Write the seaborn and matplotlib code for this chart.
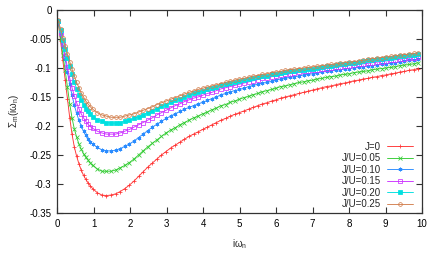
import matplotlib
matplotlib.use("Agg")
import matplotlib.pyplot as plt
import seaborn as sns

sns.set_theme(style="ticks")
plt.rcParams['font.family'] = ['Liberation Sans', 'DejaVu Sans']
plt.rcParams['mathtext.fontset'] = 'custom'
plt.rcParams['mathtext.rm'] = 'Liberation Sans'
plt.rcParams['axes.unicode_minus'] = False

# Matsubara frequencies (beta = 100), every point up to 1, then every other one
w = [0.031, 0.094, 0.157, 0.220, 0.283, 0.346, 0.408, 0.471, 0.534, 0.597,
     0.660, 0.723, 0.785, 0.848, 0.911, 0.974, 1.100, 1.225, 1.351, 1.477,
     1.602, 1.728, 1.854, 1.979, 2.105, 2.231, 2.356, 2.482, 2.608, 2.733,
     2.859, 2.985, 3.110, 3.236, 3.362, 3.487, 3.613, 3.738, 3.864, 3.990,
     4.115, 4.241, 4.367, 4.492, 4.618, 4.744, 4.869, 4.995, 5.121, 5.246,
     5.372, 5.498, 5.623, 5.749, 5.875, 6.000, 6.126, 6.252, 6.377, 6.503,
     6.629, 6.754, 6.880, 7.006, 7.131, 7.257, 7.383, 7.508, 7.634, 7.760,
     7.885, 8.011, 8.137, 8.262, 8.388, 8.514, 8.639, 8.765, 8.891, 9.016,
     9.142, 9.268, 9.393, 9.519, 9.645, 9.770, 9.896]

sig_j0 = [-0.020, -0.053, -0.087, -0.120, -0.153, -0.186, -0.214, -0.236, -0.252, -0.265,
          -0.276, -0.285, -0.292, -0.298, -0.303, -0.308, -0.315, -0.319, -0.320, -0.319,
          -0.317, -0.313, -0.308, -0.302, -0.295, -0.287, -0.279, -0.271, -0.264, -0.257,
          -0.250, -0.244, -0.238, -0.233, -0.228, -0.223, -0.218, -0.214, -0.210, -0.206,
          -0.202, -0.198, -0.194, -0.190, -0.187, -0.183, -0.180, -0.177, -0.174, -0.171,
          -0.168, -0.165, -0.162, -0.160, -0.157, -0.155, -0.152, -0.150, -0.148, -0.146,
          -0.144, -0.142, -0.140, -0.138, -0.136, -0.134, -0.132, -0.131, -0.129, -0.127,
          -0.126, -0.124, -0.122, -0.121, -0.119, -0.118, -0.116, -0.115, -0.113, -0.112,
          -0.110, -0.109, -0.107, -0.106, -0.104, -0.103, -0.101]

sig_j05 = [-0.019, -0.048, -0.077, -0.104, -0.133, -0.162, -0.186, -0.205, -0.219, -0.231,
           -0.240, -0.248, -0.254, -0.259, -0.264, -0.268, -0.274, -0.278, -0.278, -0.278,
           -0.276, -0.272, -0.268, -0.263, -0.257, -0.250, -0.243, -0.236, -0.230, -0.224,
           -0.218, -0.212, -0.207, -0.203, -0.198, -0.194, -0.190, -0.186, -0.183, -0.179,
           -0.176, -0.172, -0.169, -0.165, -0.163, -0.159, -0.157, -0.154, -0.151, -0.149,
           -0.146, -0.144, -0.141, -0.139, -0.137, -0.135, -0.132, -0.131, -0.129, -0.127,
           -0.125, -0.124, -0.122, -0.121, -0.119, -0.118, -0.116, -0.115, -0.114, -0.112,
           -0.111, -0.110, -0.108, -0.107, -0.106, -0.105, -0.103, -0.102, -0.101, -0.100,
           -0.099, -0.098, -0.096, -0.095, -0.094, -0.093, -0.091]

sig_j10 = [-0.019, -0.041, -0.063, -0.085, -0.107, -0.128, -0.147, -0.164, -0.178, -0.190,
           -0.200, -0.209, -0.216, -0.222, -0.227, -0.231, -0.237, -0.241, -0.243, -0.243,
           -0.242, -0.239, -0.235, -0.231, -0.226, -0.220, -0.214, -0.208, -0.202, -0.197,
           -0.192, -0.187, -0.183, -0.179, -0.175, -0.171, -0.168, -0.165, -0.162, -0.159,
           -0.156, -0.153, -0.150, -0.146, -0.144, -0.141, -0.139, -0.137, -0.135, -0.132,
           -0.130, -0.128, -0.126, -0.125, -0.123, -0.121, -0.119, -0.118, -0.116, -0.115,
           -0.114, -0.112, -0.111, -0.110, -0.109, -0.107, -0.106, -0.105, -0.104, -0.103,
           -0.102, -0.101, -0.100, -0.099, -0.098, -0.097, -0.096, -0.095, -0.094, -0.093,
           -0.092, -0.091, -0.090, -0.088, -0.087, -0.086, -0.085]

sig_j15 = [-0.019, -0.039, -0.059, -0.079, -0.099, -0.118, -0.134, -0.148, -0.160, -0.170,
           -0.179, -0.186, -0.192, -0.197, -0.201, -0.204, -0.209, -0.212, -0.214, -0.214,
           -0.214, -0.212, -0.209, -0.206, -0.202, -0.198, -0.194, -0.190, -0.186, -0.181,
           -0.177, -0.173, -0.169, -0.165, -0.162, -0.158, -0.155, -0.152, -0.150, -0.147,
           -0.144, -0.142, -0.139, -0.136, -0.134, -0.132, -0.130, -0.128, -0.126, -0.124,
           -0.122, -0.120, -0.118, -0.117, -0.115, -0.114, -0.112, -0.111, -0.110, -0.109,
           -0.107, -0.106, -0.105, -0.104, -0.103, -0.102, -0.101, -0.100, -0.099, -0.098,
           -0.097, -0.096, -0.095, -0.094, -0.093, -0.092, -0.091, -0.090, -0.089, -0.088,
           -0.087, -0.086, -0.085, -0.084, -0.083, -0.082, -0.081]

sig_j20 = [-0.019, -0.035, -0.051, -0.067, -0.082, -0.097, -0.111, -0.124, -0.136, -0.146,
           -0.155, -0.163, -0.170, -0.175, -0.180, -0.184, -0.189, -0.192, -0.194, -0.195,
           -0.195, -0.194, -0.192, -0.190, -0.187, -0.184, -0.181, -0.177, -0.174, -0.170,
           -0.166, -0.163, -0.159, -0.156, -0.153, -0.150, -0.147, -0.144, -0.142, -0.139,
           -0.137, -0.134, -0.132, -0.130, -0.128, -0.126, -0.124, -0.122, -0.121, -0.119,
           -0.117, -0.116, -0.114, -0.113, -0.111, -0.110, -0.108, -0.107, -0.106, -0.105,
           -0.104, -0.103, -0.102, -0.101, -0.100, -0.098, -0.097, -0.096, -0.095, -0.094,
           -0.093, -0.092, -0.091, -0.090, -0.088, -0.087, -0.086, -0.085, -0.084, -0.083,
           -0.082, -0.081, -0.080, -0.079, -0.078, -0.077, -0.076]

sig_j25 = [-0.018, -0.033, -0.048, -0.062, -0.076, -0.089, -0.102, -0.114, -0.125, -0.134,
           -0.143, -0.150, -0.157, -0.162, -0.167, -0.171, -0.177, -0.181, -0.183, -0.185,
           -0.185, -0.185, -0.183, -0.181, -0.179, -0.176, -0.173, -0.170, -0.167, -0.163,
           -0.160, -0.157, -0.154, -0.151, -0.148, -0.145, -0.142, -0.140, -0.137, -0.135,
           -0.133, -0.131, -0.129, -0.127, -0.125, -0.123, -0.121, -0.119, -0.118, -0.116,
           -0.114, -0.113, -0.111, -0.110, -0.108, -0.107, -0.106, -0.104, -0.103, -0.102,
           -0.101, -0.100, -0.099, -0.098, -0.097, -0.096, -0.095, -0.094, -0.093, -0.092,
           -0.091, -0.090, -0.089, -0.088, -0.087, -0.085, -0.084, -0.083, -0.082, -0.081,
           -0.080, -0.079, -0.078, -0.077, -0.076, -0.075, -0.074]

labels = ["J=0", "J/U=0.05", "J/U=0.10", "J/U=0.15", "J/U=0.20", "J/U=0.25"]
series = [sig_j0, sig_j05, sig_j10, sig_j15, sig_j20, sig_j25]
colors = ["#ff3535", "#33cc33", "#2a8cff", "#cc33ff", "#00e0e0", "#d2804f"]
markers = ["+", "x", (6, 2, 0), "s", "s", "o"]
filled = [True, True, True, False, True, False]

fig, ax = plt.subplots(figsize=(4.36, 2.62), dpi=100)
fig.subplots_adjust(left=0.131, right=0.968, top=0.962, bottom=0.187)

for ys, lab, c, m, f in zip(series, labels, colors, markers, filled):
    sns.lineplot(x=w, y=ys, ax=ax, color=c, marker=m, markersize=2.7,
                 markeredgecolor=c, markerfacecolor=c if f else "none",
                 markeredgewidth=0.55, linewidth=0.65, label=lab,
                 errorbar=None, sort=False)

ax.set_xlim(0, 10)
ax.set_ylim(-0.35, 0)
ax.set_xticks(range(0, 11))
ax.set_yticks([0, -0.05, -0.1, -0.15, -0.2, -0.25, -0.3, -0.35])
ax.yaxis.set_major_formatter(matplotlib.ticker.FormatStrFormatter('%g'))
ax.tick_params(direction="in", top=True, right=True, length=4, width=0.8,
               labelsize=7, pad=4, colors="#333333", labelcolor="black")
for s in ax.spines.values():
    s.set_color("#333333")
    s.set_linewidth(0.9)

ax.set_xlabel("iω$_{\\rm n}$", fontsize=7, labelpad=6)
ax.set_ylabel("Σ$_{\\rm m}$(iω$_{\\rm n}$)", fontsize=7, labelpad=6)

ax.legend(loc="lower right", bbox_to_anchor=(0.985, 0.0), borderaxespad=0,
          markerfirst=False, frameon=False, fontsize=7, handlelength=2.6,
          handletextpad=0.7, labelspacing=0.15)

plt.savefig("out.png", dpi=100)
